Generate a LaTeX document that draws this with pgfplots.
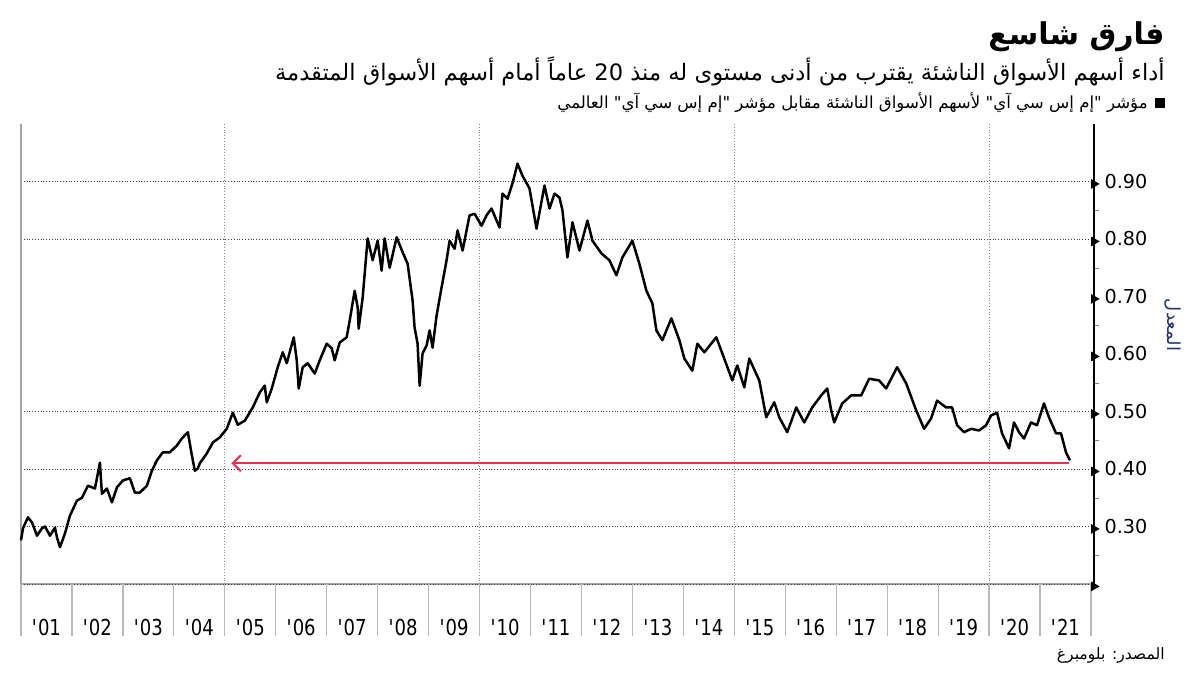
\documentclass[border=0pt]{standalone}
\usepackage{fontspec}
\usepackage{pgfplots}
\pgfplotsset{compat=1.18}
\usetikzlibrary{arrows.meta}
\setmainfont{DejaVu Sans}
\newfontfamily\arabicfont[Script=Arabic]{DejaVu Sans}
\newfontfamily\yearfont[FakeStretch=0.82]{DejaVu Sans}
\TeXXeTstate=1
\definecolor{arrowRed}{RGB}{228,52,82}
\definecolor{labelBlue}{RGB}{36,52,110}

\begin{document}
\begin{tikzpicture}
\path[fill=white] (0,0) rectangle (600pt,337.5pt);

\begin{axis}[
    at={(10.5pt,45.5pt)}, anchor=south west,
    scale only axis, width=536.5pt, height=230pt,
    xmin=2001, xmax=2022.06, ymin=0.2, ymax=1.0,
    axis x line*=bottom, axis y line*=right,
    x axis line style={gray!70, line width=0.6pt},
    y axis line style={black, line width=0.7pt},
    xtick={2001.5,2002.5,2003.5,2004.5,2005.5,2006.5,2007.5,2008.5,2009.5,2010.5,2011.5,2012.5,2013.5,2014.5,2015.5,2016.5,2017.5,2018.5,2019.5,2020.5,2021.5},
    xticklabels={\textquotesingle01,\textquotesingle02,\textquotesingle03,\textquotesingle04,\textquotesingle05,\textquotesingle06,\textquotesingle07,\textquotesingle08,\textquotesingle09,\textquotesingle10,\textquotesingle11,\textquotesingle12,\textquotesingle13,\textquotesingle14,\textquotesingle15,\textquotesingle16,\textquotesingle17,\textquotesingle18,\textquotesingle19,\textquotesingle20,\textquotesingle21},
    major x tick style={draw=none},
    xticklabel style={font=\yearfont\fontsize{11}{13}\selectfont, yshift=-10pt},
    ytick={0.2,0.3,0.4,0.5,0.6,0.7,0.8,0.9},
    yticklabels={,0.30,0.40,0.50,0.60,0.70,0.80,0.90},
    minor y tick num=1,
    tick align=outside,
    minor tick length=2.5pt,
    major y tick style={draw=none},
    yticklabel style={font=\fontsize{9.6}{11}\selectfont, anchor=west, xshift=-2.5pt},
    extra y ticks={0.2,0.3,0.4,0.5,0.8,0.9},
    extra y tick labels={},
    extra y tick style={grid=major, major tick length=0pt,
        major grid style={black!75, densely dotted, line width=0.5pt}},
    extra x ticks={2005,2010,2015,2020},
    extra x tick labels={},
    extra x tick style={grid=major, major tick length=0pt,
        major grid style={black!45, densely dotted, line width=0.5pt}},
    clip=false,
]
% year separators below the axis
\pgfplotsinvokeforeach{2001,2002,...,2022}{
    \draw[gray!55, line width=0.6pt] (axis cs:#1,0.2) -- ++(0pt,-26pt);
}
% left border
\draw[gray!70, line width=0.7pt] (rel axis cs:0,0) -- (rel axis cs:0,1);

% MSCI EM / MSCI World ratio
\addplot[black, line width=1.25pt, line join=round] table {
2001.000 0.276
2001.039 0.297
2001.137 0.316
2001.216 0.307
2001.314 0.284
2001.412 0.297
2001.471 0.300
2001.569 0.284
2001.667 0.298
2001.706 0.281
2001.765 0.264
2001.863 0.288
2001.961 0.319
2002.098 0.345
2002.196 0.350
2002.314 0.371
2002.451 0.366
2002.549 0.411
2002.588 0.357
2002.686 0.366
2002.784 0.342
2002.882 0.368
2003.000 0.380
2003.137 0.384
2003.235 0.359
2003.333 0.359
2003.471 0.371
2003.569 0.397
2003.667 0.415
2003.784 0.429
2003.922 0.429
2004.059 0.441
2004.157 0.453
2004.275 0.464
2004.353 0.424
2004.412 0.397
2004.471 0.401
2004.510 0.410
2004.647 0.427
2004.765 0.446
2004.902 0.455
2005.039 0.470
2005.157 0.498
2005.255 0.477
2005.392 0.484
2005.549 0.507
2005.686 0.533
2005.784 0.545
2005.824 0.516
2005.922 0.540
2006.039 0.577
2006.137 0.603
2006.216 0.584
2006.353 0.629
2006.412 0.589
2006.451 0.540
2006.529 0.577
2006.627 0.584
2006.765 0.566
2006.863 0.589
2007.000 0.618
2007.098 0.610
2007.157 0.589
2007.255 0.620
2007.392 0.629
2007.451 0.658
2007.549 0.710
2007.608 0.681
2007.627 0.644
2007.706 0.698
2007.804 0.801
2007.902 0.763
2008.000 0.797
2008.078 0.745
2008.137 0.801
2008.235 0.750
2008.373 0.803
2008.490 0.777
2008.588 0.757
2008.686 0.693
2008.725 0.646
2008.784 0.618
2008.824 0.545
2008.882 0.601
2008.961 0.615
2009.020 0.641
2009.078 0.611
2009.157 0.667
2009.255 0.716
2009.353 0.763
2009.412 0.797
2009.510 0.783
2009.569 0.815
2009.667 0.780
2009.804 0.841
2009.902 0.844
2010.039 0.823
2010.137 0.841
2010.235 0.853
2010.392 0.820
2010.451 0.879
2010.549 0.870
2010.647 0.897
2010.745 0.931
2010.843 0.910
2010.980 0.888
2011.118 0.818
2011.275 0.893
2011.373 0.853
2011.471 0.879
2011.569 0.872
2011.627 0.850
2011.725 0.768
2011.824 0.829
2011.961 0.780
2012.118 0.832
2012.216 0.797
2012.392 0.775
2012.549 0.763
2012.686 0.737
2012.804 0.768
2013.000 0.797
2013.137 0.757
2013.275 0.710
2013.392 0.688
2013.471 0.641
2013.588 0.624
2013.765 0.662
2013.922 0.624
2014.020 0.592
2014.176 0.571
2014.275 0.618
2014.412 0.603
2014.647 0.629
2014.765 0.601
2014.961 0.554
2015.059 0.580
2015.196 0.542
2015.294 0.592
2015.490 0.554
2015.627 0.490
2015.784 0.516
2015.882 0.490
2016.039 0.464
2016.216 0.507
2016.373 0.481
2016.529 0.507
2016.706 0.528
2016.824 0.540
2016.902 0.502
2016.961 0.481
2017.118 0.514
2017.294 0.528
2017.490 0.528
2017.647 0.557
2017.843 0.554
2017.980 0.540
2018.196 0.577
2018.373 0.549
2018.569 0.502
2018.725 0.470
2018.863 0.488
2018.980 0.519
2019.157 0.507
2019.275 0.507
2019.373 0.476
2019.510 0.464
2019.647 0.470
2019.804 0.467
2019.941 0.476
2020.039 0.493
2020.157 0.498
2020.255 0.462
2020.392 0.436
2020.490 0.481
2020.588 0.464
2020.686 0.453
2020.824 0.481
2020.941 0.476
2021.078 0.514
2021.176 0.490
2021.314 0.462
2021.412 0.462
2021.510 0.429
2021.588 0.415
};

% red arrow back to the 2005 level
\addplot[arrowRed, line width=1pt, -{Straight Barb[length=4pt,width=8pt]}] coordinates {(2021.57,0.410) (2005.13,0.410)};

% tick arrowheads on the value axis
\addplot[only marks, mark=triangle*, mark size=2.4pt,
    mark options={rotate=-90, xshift=1.2pt, fill=black, draw=black}]
    coordinates {(2022.06,0.2) (2022.06,0.3) (2022.06,0.4) (2022.06,0.5)
                 (2022.06,0.6) (2022.06,0.7) (2022.06,0.8) (2022.06,0.9)};
\end{axis}

% titles
\node[anchor=east, inner sep=0pt, font=\arabicfont\bfseries\fontsize{15}{18}\selectfont]
    at (582.5pt,319pt) {\beginR فارق شاسع\endR};
\node[anchor=east, inner sep=0pt, font=\arabicfont\fontsize{11.3}{14}\selectfont]
    at (582.5pt,302pt) {\beginR أداء أسهم الأسواق الناشئة يقترب من أدنى مستوى له منذ \beginL 20\endL{} عاماً أمام أسهم الأسواق المتقدمة\endR};
\fill[black] (577.5pt,283.5pt) rectangle (582.5pt,288.5pt);
\node[anchor=east, inner sep=0pt, font=\arabicfont\fontsize{8.3}{10}\selectfont]
    at (574pt,286pt) {\beginR مؤشر "إم إس سي آي" لأسهم الأسواق الناشئة مقابل مؤشر "إم إس سي آي" العالمي\endR};
\node[rotate=-90, inner sep=0pt, text=labelBlue, font=\arabicfont\fontsize{9}{11}\selectfont]
    at (586.5pt,175pt) {\beginR المعدل\endR};
\node[anchor=east, inner sep=0pt, font=\arabicfont\fontsize{7.8}{10}\selectfont]
    at (582.5pt,10pt) {\beginR المصدر: بلومبرغ\endR};
\end{tikzpicture}
\end{document}
